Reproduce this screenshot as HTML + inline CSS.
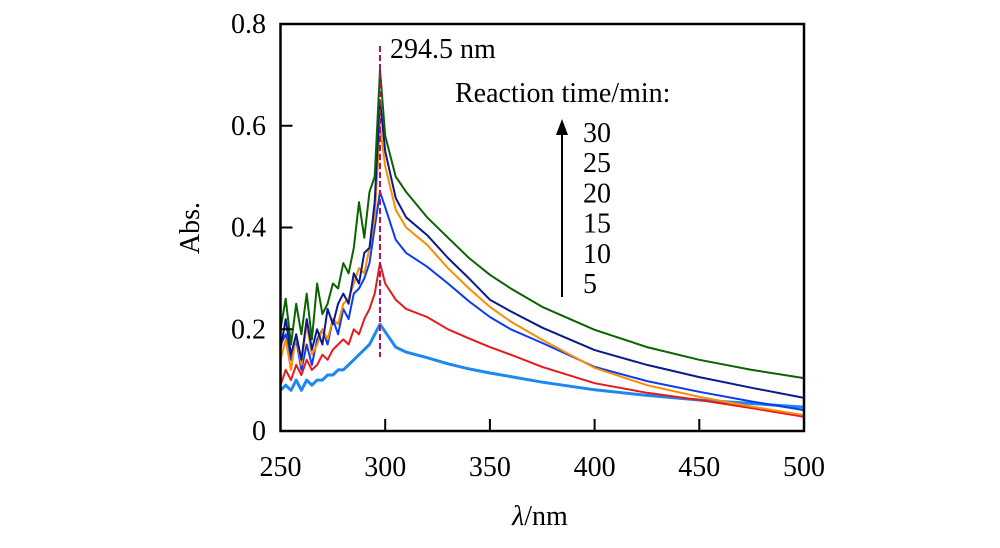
<!DOCTYPE html>
<html><head><meta charset="utf-8"><style>
body{margin:0;background:#fff}
svg text{font-family:"Liberation Serif",serif;fill:#000}
</style></head><body>
<svg width="1000" height="543" viewBox="0 0 1000 543">
<g id="plot"></g>
</svg>
<script>
const lambdas=[250,252.5,255,257.5,260,262.5,265,267.5,270,272.5,275,277.5,280,282.5,285,287.5,290,292.5,295,297.5,300,305,310,320,330,340,350,360,375,400,425,450,475,500];
const s30=[0.20,0.26,0.17,0.25,0.19,0.27,0.18,0.29,0.23,0.25,0.29,0.28,0.33,0.31,0.36,0.45,0.38,0.47,0.50,0.71,0.58,0.50,0.47,0.42,0.38,0.34,0.307,0.28,0.244,0.199,0.165,0.14,0.12,0.104];
const s25=[0.16,0.22,0.15,0.19,0.14,0.22,0.16,0.20,0.17,0.24,0.21,0.25,0.27,0.25,0.31,0.29,0.35,0.36,0.45,0.65,0.55,0.458,0.42,0.385,0.34,0.30,0.258,0.235,0.203,0.159,0.13,0.106,0.085,0.065];
const s20=[0.14,0.18,0.12,0.19,0.13,0.21,0.15,0.17,0.20,0.18,0.22,0.21,0.25,0.26,0.29,0.32,0.31,0.36,0.42,0.60,0.52,0.435,0.40,0.366,0.32,0.28,0.244,0.215,0.179,0.124,0.09,0.067,0.048,0.031];
const s15=[0.17,0.19,0.14,0.18,0.12,0.17,0.13,0.18,0.20,0.17,0.22,0.19,0.24,0.22,0.27,0.28,0.30,0.33,0.40,0.47,0.44,0.376,0.35,0.323,0.29,0.255,0.224,0.20,0.173,0.126,0.098,0.077,0.058,0.041];
const s10=[0.09,0.12,0.10,0.13,0.11,0.14,0.12,0.13,0.15,0.14,0.16,0.17,0.18,0.17,0.20,0.19,0.22,0.24,0.27,0.33,0.29,0.258,0.24,0.224,0.20,0.182,0.165,0.15,0.126,0.094,0.075,0.061,0.045,0.028];
const s5=[0.08,0.09,0.08,0.10,0.08,0.10,0.09,0.10,0.10,0.11,0.11,0.12,0.12,0.13,0.14,0.15,0.16,0.17,0.19,0.21,0.195,0.165,0.155,0.144,0.132,0.122,0.114,0.107,0.096,0.081,0.07,0.061,0.054,0.047];
const seriesNames=["time-5","time-10","time-15","time-20","time-25","time-30"];
const xTicks=[250,300,350,400,450,500];
const yTicks=[0,0.2,0.4,0.6,0.8];
const legendLabels=["30","25","20","15","10","5"];

const NS="http://www.w3.org/2000/svg";
const g=document.getElementById('plot');
const X0=280.5,X1=804,Y0=431,Y1=24;
const xs=v=>X0+(v-250)/250*(X1-X0);
const ys=v=>Y0-v/0.8*(Y0-Y1);
function mk(t,a,txt){const e=document.createElementNS(NS,t);for(const k in a)e.setAttribute(k,a[k]);if(txt!==undefined)e.textContent=txt;g.appendChild(e);return e;}

const series=[s5,s10,s15,s20,s25,s30];
const colors=["#1e88f0","#e41a1c","#0b3cf0","#ff8c00","#0a1a8c","#0a6400"];
series.forEach((s,i)=>{
  const d=s.map((v,j)=>(j?'L':'M')+xs(lambdas[j]).toFixed(1)+','+ys(v).toFixed(1)).join('');
  const p=mk('path',{d:d,fill:'none',stroke:colors[i],'stroke-width':i==0?3:2,'stroke-linejoin':'round'});
  
  
});
const dl=mk('line',{x1:xs(297.5),x2:xs(297.5),y1:46,y2:357,stroke:'#b0105a','stroke-width':2,'stroke-dasharray':'6,3'});


const fr=mk('rect',{x:X0,y:Y1,width:X1-X0,height:Y0-Y1,fill:'none',stroke:'#000','stroke-width':2.5});


xTicks.forEach(t=>{
  const l=mk('line',{x1:xs(t),x2:xs(t),y1:Y0,y2:Y0-12,stroke:'#000','stroke-width':2});
  
  
  const tx=mk('text',{x:xs(t),y:476,'text-anchor':'middle','font-size':28},String(t));
  
  
});
yTicks.forEach(t=>{
  const l=mk('line',{x1:X0,x2:X0+12,y1:ys(t),y2:ys(t),stroke:'#000','stroke-width':2});
  
  
  const tx=mk('text',{x:266,y:ys(t)+9,'text-anchor':'end','font-size':28},t===0?'0':t.toFixed(1));
  
  
});
const yt=mk('text',{x:0,y:0,'font-size':28,'text-anchor':'middle',transform:'translate(199,228) rotate(-90)'},'Abs.');


const xt=mk('text',{x:540,y:525,'font-size':28,'text-anchor':'middle'});
xt.innerHTML='<tspan font-style="italic">λ</tspan>/nm';


const pk=mk('text',{x:390,y:58,'font-size':28},'294.5 nm');


const lt=mk('text',{x:455,y:102,'font-size':28},'Reaction time/min:');


const ar=mk('line',{x1:562,x2:562,y1:297,y2:132,stroke:'#000','stroke-width':2});


const ah=mk('path',{d:'M562,119 L556,135 L568,135 Z',fill:'#000'});


legendLabels.forEach((s,i)=>{
  const t=mk('text',{x:583,y:142+i*30.2,'font-size':28},s);
  
  
});
</script>
</body></html>
